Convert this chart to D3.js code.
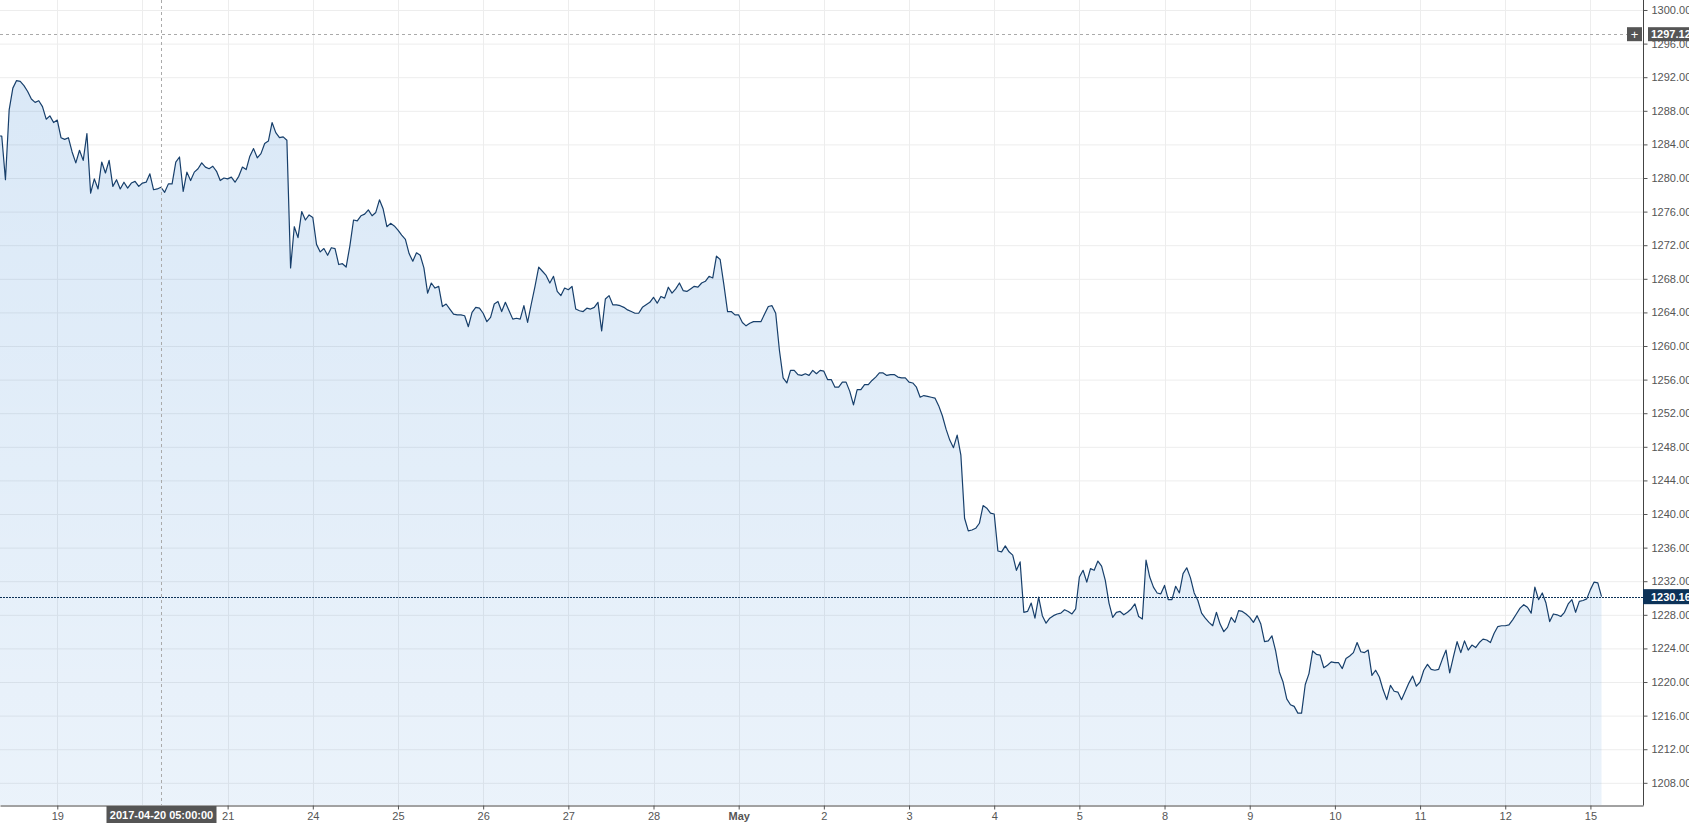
<!DOCTYPE html>
<html>
<head>
<meta charset="utf-8">
<script src="https://cdn.jsdelivr.net/npm/d3@7/dist/d3.min.js"></script>
<style>
  body { margin: 0; background: #fff; overflow: hidden; }
  svg  { display: block; font-family: Arial, "Liberation Sans", sans-serif; }
</style>
</head>
<body>
<script>

// trading days on the x axis, 23 hourly bars per session
var dayLabels   = ["19", "20", "21", "24", "25", "26", "27", "28", "May", "2",
                   "3", "4", "5", "8", "9", "10", "11", "12", "15"];
var barsPerDay  = 23;
var firstBar    = -16;          // bar index of prices[0] (Apr 18, before the first tick)

var prices = [
    // Apr 18
    1285.0, 1285.0, 1279.8, 1288.1, 1290.7, 1291.6, 1291.5, 1291.0, 1290.3, 1289.4, 1289.0, 1289.2,
    1288.5, 1287.0, 1287.4, 1286.6,
    // Apr 19
    1286.9, 1284.8, 1284.6, 1284.8, 1283.1, 1281.8, 1283.3, 1282.1, 1285.3, 1278.2, 1279.9, 1278.7,
    1281.9, 1280.6, 1282.1, 1279.0, 1279.8, 1278.7, 1279.5, 1278.8, 1279.4, 1279.6, 1279.0,
    // Apr 20
    1279.4, 1279.5, 1280.5, 1278.6, 1278.7, 1278.9, 1278.3, 1279.3, 1279.3, 1281.9, 1282.5, 1278.4,
    1280.7, 1279.7, 1280.7, 1281.1, 1281.8, 1281.3, 1281.1, 1281.4, 1280.8, 1279.7, 1280.0,
    // Apr 21
    1279.9, 1280.1, 1279.5, 1280.2, 1281.3, 1281.0, 1282.6, 1283.5, 1282.4, 1282.9, 1284.1, 1284.4,
    1286.6, 1285.4, 1284.8, 1284.9, 1284.5, 1269.3, 1274.2, 1272.9, 1276.0, 1275.0, 1275.6,
    // Apr 24
    1275.3, 1272.1, 1271.2, 1271.6, 1270.8, 1271.7, 1271.6, 1269.7, 1269.8, 1269.4, 1271.9, 1275.0,
    1274.9, 1275.5, 1275.7, 1276.2, 1275.5, 1275.9, 1277.4, 1276.3, 1274.2, 1274.6, 1274.3,
    // Apr 25
    1273.8, 1273.2, 1272.7, 1271.0, 1270.1, 1271.1, 1270.8, 1269.3, 1266.3, 1267.5, 1266.9, 1267.1,
    1264.7, 1265.0, 1264.4, 1263.8, 1263.7, 1263.7, 1263.6, 1262.3, 1264.0, 1264.6, 1264.5,
    // Apr 26
    1263.9, 1262.9, 1263.4, 1265.0, 1265.3, 1264.1, 1265.2, 1264.2, 1263.2, 1263.3, 1263.2, 1264.8,
    1262.8, 1265.0, 1267.1, 1269.4, 1268.9, 1268.4, 1267.5, 1268.3, 1266.5, 1266.0, 1266.9,
    // Apr 27
    1266.7, 1267.1, 1264.4, 1264.2, 1264.1, 1264.5, 1264.4, 1264.6, 1265.2, 1261.8, 1265.6, 1266.0,
    1264.9, 1264.9, 1264.8, 1264.6, 1264.3, 1264.1, 1263.9, 1263.9, 1264.6, 1264.9, 1265.2,
    // Apr 28
    1265.8, 1265.1, 1265.9, 1265.7, 1267.0, 1266.3, 1266.8, 1267.5, 1266.6, 1266.5, 1266.8, 1267.1,
    1267.0, 1267.5, 1267.7, 1268.3, 1268.1, 1270.7, 1270.3, 1267.3, 1264.1, 1264.1, 1263.7,
    // May 1
    1263.7, 1262.8, 1262.4, 1262.7, 1262.9, 1262.9, 1262.9, 1263.8, 1264.7, 1264.8, 1263.9, 1259.5,
    1256.2, 1255.6, 1257.1, 1257.1, 1256.6, 1256.5, 1256.7, 1256.5, 1257.1, 1256.7, 1257.1,
    // May 2
    1257.0, 1256.0, 1256.0, 1255.1, 1255.1, 1255.7, 1255.7, 1254.6, 1253.0, 1254.8, 1254.8, 1255.4,
    1255.4, 1255.9, 1256.3, 1256.8, 1256.8, 1256.5, 1256.6, 1256.6, 1256.3, 1256.2, 1256.2,
    // May 3
    1255.7, 1255.6, 1255.1, 1253.9, 1254.1, 1254.0, 1253.9, 1253.8, 1252.9, 1251.7, 1250.1, 1248.8,
    1247.9, 1249.4, 1247.0, 1239.5, 1238.0, 1238.1, 1238.3, 1238.9, 1241.0, 1240.7, 1240.1,
    // May 4
    1240.0, 1235.6, 1235.5, 1236.2, 1235.5, 1235.1, 1233.3, 1234.3, 1228.3, 1228.4, 1229.4, 1227.6,
    1230.1, 1227.9, 1227.0, 1227.6, 1227.9, 1228.1, 1228.2, 1228.6, 1228.4, 1228.1, 1228.7,
    // May 5
    1232.5, 1233.3, 1231.9, 1233.5, 1233.3, 1234.4, 1233.8, 1232.1, 1229.4, 1227.7, 1228.3, 1228.4,
    1228.0, 1228.3, 1228.7, 1229.3, 1227.8, 1227.5, 1234.5, 1232.5, 1231.3, 1230.6, 1230.5,
    // May 8
    1231.5, 1229.8, 1229.8, 1231.4, 1230.6, 1232.9, 1233.6, 1232.4, 1230.6, 1229.7, 1228.2, 1227.6,
    1227.1, 1226.7, 1228.3, 1226.9, 1226.0, 1226.5, 1227.7, 1227.1, 1228.5, 1228.4, 1228.1,
    // May 9
    1227.7, 1227.1, 1227.9, 1226.9, 1224.8, 1224.9, 1225.5, 1223.7, 1221.2, 1220.0, 1218.0, 1217.3,
    1217.1, 1216.3, 1216.3, 1219.7, 1221.0, 1223.7, 1223.3, 1223.2, 1221.7, 1222.0, 1222.4,
    // May 10
    1222.3, 1222.3, 1221.6, 1222.8, 1223.1, 1223.5, 1224.7, 1223.6, 1223.5, 1223.8, 1220.8, 1221.4,
    1220.6, 1219.1, 1217.9, 1219.6, 1218.9, 1218.8, 1217.9, 1218.9, 1219.9, 1220.7, 1219.5,
    // May 11
    1220.0, 1221.4, 1222.1, 1221.5, 1221.4, 1221.5, 1222.7, 1223.8, 1221.1, 1223.0, 1224.8, 1223.5,
    1224.9, 1223.8, 1224.4, 1224.1, 1224.7, 1225.1, 1225.0, 1224.7, 1225.8, 1226.6, 1226.7,
    // May 12
    1226.7, 1226.8, 1227.4, 1228.1, 1228.8, 1229.2, 1228.9, 1228.2, 1231.3, 1229.8, 1230.6, 1229.4,
    1227.2, 1228.1, 1228.0, 1227.8, 1228.3, 1229.3, 1229.8, 1228.3, 1229.6, 1229.7, 1229.9,
    // May 15
    1231.0, 1231.9, 1231.8, 1230.16
];

var yTicks      = d3.range(1208, 1301, 4);
var lastPrice   = 1230.16;
var crossBar    = 28;
var crossTime   = "2017-04-20 05:00:00";
var crossPrice  = 1297.12;

window.onload = function() {

    var W       = 1689,
        H       = 823,
        plotR   = 1643,
        plotB   = 805;

    var x = d3.scaleLinear().domain([-15.47, 428.2]).range([0, plotR]);
    var y = d3.scaleLinear().domain([1205.36, 1301.19]).range([plotB, 0]);

    var data = prices.map(function(v, k) { return { bar: k + firstBar, v: v }; });
    var days = dayLabels.map(function(d, k) { return { label: d, bar: k * barsPerDay }; });

    var svg = d3.select("body").append("svg")
        .attr("width", W)
        .attr("height", H);

    var defs = svg.append("defs");
    defs.append("clipPath").attr("id", "plot")
        .append("rect").attr("width", plotR).attr("height", plotB);

    var grad = defs.append("linearGradient").attr("id", "fill")
        .attr("gradientUnits", "userSpaceOnUse")
        .attr("x1", 0).attr("y1", 80).attr("x2", 0).attr("y2", plotB);
    grad.append("stop").attr("offset", 0).attr("stop-color", "rgb(0,100,200)").attr("stop-opacity", 0.145);
    grad.append("stop").attr("offset", 1).attr("stop-color", "rgb(0,100,200)").attr("stop-opacity", 0.08);

    // grid
    svg.append("g").selectAll("line").data(yTicks).enter().append("line")
        .attr("x1", 0).attr("x2", plotR)
        .attr("y1", function(d) { return y(d) + 0.5; })
        .attr("y2", function(d) { return y(d) + 0.5; })
        .attr("stroke", "#ededed");
    svg.append("g").selectAll("line").data(days).enter().append("line")
        .attr("x1", function(d) { return Math.round(x(d.bar)) + 0.5; })
        .attr("x2", function(d) { return Math.round(x(d.bar)) + 0.5; })
        .attr("y1", 0).attr("y2", plotB)
        .attr("stroke", "#ededed");

    // price area + line
    var plot = svg.append("g").attr("clip-path", "url(#plot)");

    plot.append("path").datum(data)
        .attr("fill", "url(#fill)")
        .attr("d", d3.area()
            .x(function(d) { return x(d.bar); })
            .y0(plotB)
            .y1(function(d) { return y(d.v); }));

    plot.append("path").datum(data)
        .attr("fill", "none")
        .attr("stroke", "#173f6b")
        .attr("stroke-width", 1.2)
        .attr("stroke-linejoin", "round")
        .attr("d", d3.line()
            .x(function(d) { return x(d.bar); })
            .y(function(d) { return y(d.v); }));

    // last price marker line
    svg.append("line")
        .attr("x1", 0).attr("x2", plotR)
        .attr("y1", Math.round(y(lastPrice)) + 0.5)
        .attr("y2", Math.round(y(lastPrice)) + 0.5)
        .attr("stroke", "#0c3258")
        .attr("stroke-dasharray", "2,1");

    // crosshair
    var cx = Math.round(x(crossBar)) + 0.5,
        cy = Math.round(y(crossPrice)) + 0.5;
    svg.append("line")
        .attr("x1", cx).attr("x2", cx).attr("y1", 0).attr("y2", plotB)
        .attr("stroke", "#aaa").attr("stroke-dasharray", "3,3");
    svg.append("line")
        .attr("x1", 0).attr("x2", 1627).attr("y1", cy).attr("y2", cy)
        .attr("stroke", "#aaa").attr("stroke-dasharray", "3,3");

    // axes
    var yAxis = d3.axisRight(y)
        .tickValues(yTicks)
        .tickSize(4)
        .tickSizeOuter(0)
        .tickPadding(4)
        .tickFormat(d3.format(".2f"));

    var xAxis = d3.axisBottom(x)
        .tickValues(days.map(function(d) { return d.bar; }))
        .tickSize(4)
        .tickSizeOuter(0)
        .tickPadding(3)
        .tickFormat(function(b, k) { return days[k].label; });

    var gy = svg.append("g").attr("transform", "translate(" + (plotR + 0.5) + ",0)").call(yAxis);
    var gx = svg.append("g").attr("transform", "translate(0," + (plotB + 0.5) + ")").call(xAxis);

    [gy, gx].forEach(function(g) {
        g.select(".domain").attr("stroke", "#444");
        g.selectAll(".tick line").attr("stroke", "#555");
        g.selectAll(".tick text")
            .attr("fill", "#555")
            .style("font-size", "11px")
            .style("font-family", "Arial, 'Liberation Sans', sans-serif");
    });
    gx.selectAll(".tick text")
        .style("font-weight", function(d, k) { return days[k].label === "May" ? "bold" : "normal"; });
    gy.select(".domain").attr("d", "M0,0V" + (plotB + 0.5));

    // the time label covers the day tick under the crosshair
    gx.selectAll(".tick")
        .filter(function(b) { return Math.abs(x(b) - cx) < 60; })
        .remove();

    // value labels on the right axis
    svg.append("rect")
        .attr("x", plotR).attr("y", y(lastPrice) - 7.5)
        .attr("width", W - plotR).attr("height", 15)
        .attr("fill", "#0c3258");
    svg.append("text")
        .attr("x", 1651).attr("y", y(lastPrice) + 4)
        .attr("fill", "#fff").style("font-size", "11px").style("font-weight", "bold")
        .text(d3.format(".2f")(lastPrice));

    svg.append("rect")
        .attr("x", 1627).attr("y", y(crossPrice) - 7)
        .attr("width", 15).attr("height", 14)
        .attr("fill", "#555");
    svg.append("text")
        .attr("x", 1634.5).attr("y", y(crossPrice) + 4.5)
        .attr("text-anchor", "middle")
        .attr("fill", "#fff").style("font-size", "13px")
        .text("+");
    svg.append("rect")
        .attr("x", 1648).attr("y", y(crossPrice) - 7)
        .attr("width", W - 1648).attr("height", 14)
        .attr("fill", "#555");
    svg.append("text")
        .attr("x", 1651).attr("y", y(crossPrice) + 4)
        .attr("fill", "#fff").style("font-size", "11px").style("font-weight", "bold")
        .text(d3.format(".2f")(crossPrice));

    // time label under the crosshair
    svg.append("rect")
        .attr("x", cx - 55).attr("y", plotB + 1)
        .attr("width", 110).attr("height", H - plotB - 1)
        .attr("fill", "#555");
    svg.append("text")
        .attr("x", cx).attr("y", plotB + 14)
        .attr("text-anchor", "middle")
        .attr("fill", "#fff").style("font-size", "11px").style("font-weight", "bold")
        .text(crossTime);
};

</script>
</body>
</html>
